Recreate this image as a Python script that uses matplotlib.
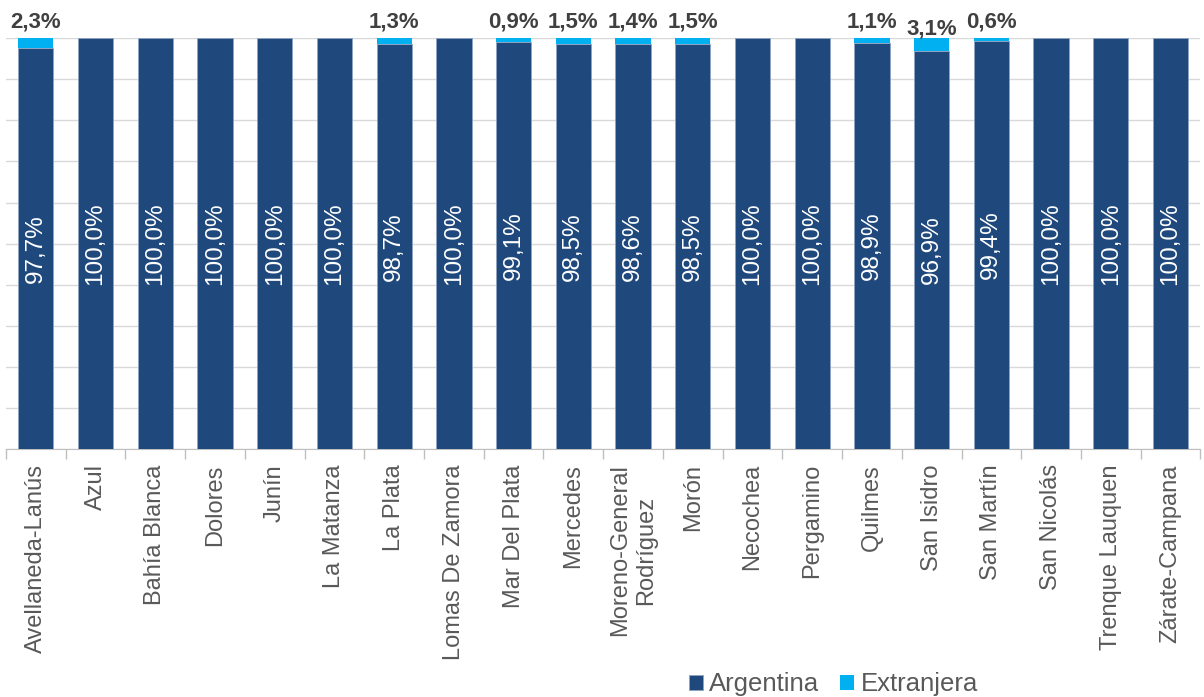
import matplotlib
matplotlib.use("Agg")
import matplotlib.pyplot as plt
import numpy as np

plt.rcParams["font.family"] = ["Liberation Sans", "DejaVu Sans"]

categories = ["Avellaneda-Lanús", "Azul", "Bahía Blanca", "Dolores", "Junín", "La Matanza",
              "La Plata", "Lomas De Zamora", "Mar Del Plata", "Mercedes",
              "Moreno-General\nRodríguez", "Morón", "Necochea", "Pergamino", "Quilmes",
              "San Isidro", "San Martín", "San Nicolás", "Trenque Lauquen", "Zárate-Campana"]
argentina = [97.7, 100.0, 100.0, 100.0, 100.0, 100.0, 98.7, 100.0, 99.1, 98.5,
             98.6, 98.5, 100.0, 100.0, 98.9, 96.9, 99.4, 100.0, 100.0, 100.0]
extranjera = [2.3, 0.0, 0.0, 0.0, 0.0, 0.0, 1.3, 0.0, 0.9, 1.5,
              1.4, 1.5, 0.0, 0.0, 1.1, 3.1, 0.6, 0.0, 0.0, 0.0]

c_arg = "#1F497D"
c_ext = "#00B0F0"

fig = plt.figure(figsize=(12.04, 6.97), dpi=100)
ax = fig.add_axes([0.005, 0.356, 0.992, 0.589])

x = np.arange(len(categories))
w = 0.59
ax.bar(x, argentina, w, color=c_arg, edgecolor="#8EA3C0", linewidth=0.6, label="Argentina", zorder=3)
ax.bar(x, extranjera, w, bottom=argentina, color=c_ext, edgecolor="none", label="Extranjera", zorder=3)

for i, (a, e) in enumerate(zip(argentina, extranjera)):
    ax.text(i, a / 2, f"{a:.1f}%".replace(".", ","), rotation=90, ha="center", va="center",
            color="white", fontsize=17.5, zorder=4)
    if e > 0:
        off = 4 if e < 3 else -0.5
        ax.annotate(f"{e:.1f}%".replace(".", ","), (i, 100), xytext=(0, off),
                    textcoords="offset points", ha="center", va="bottom",
                    color="#404040", fontsize=16, fontweight="bold", zorder=4,
                    annotation_clip=False)

ax.set_xlim(-0.5, len(categories) - 0.5)
ax.set_ylim(0, 100)
ax.set_yticks(np.arange(0, 101, 10))
ax.yaxis.grid(True, color="#D9D9D9", linewidth=1.0, zorder=0)
ax.tick_params(axis="y", length=0, labelleft=False)
for s in ["top", "right", "left"]:
    ax.spines[s].set_visible(False)
ax.spines["bottom"].set_color("#BFBFBF")

ax.set_xticks(x)
ax.set_xticklabels(categories, rotation=90, ha="center", va="top", fontsize=17,
                   color="#595959", linespacing=1.25)
ax.tick_params(axis="x", which="major", length=0, pad=11)
ax.set_xticks(np.arange(-0.5, len(categories), 1), minor=True)
ax.tick_params(axis="x", which="minor", length=7, color="#BFBFBF", width=1)

leg = fig.legend(loc="center", bbox_to_anchor=(0.692, 0.018), ncol=2, frameon=False,
                 fontsize=18.5, labelcolor="#595959", handlelength=0.55, handleheight=0.55,
                 handletextpad=0.25, columnspacing=0.8, borderpad=0)

fig.savefig("out.png", dpi=100)
